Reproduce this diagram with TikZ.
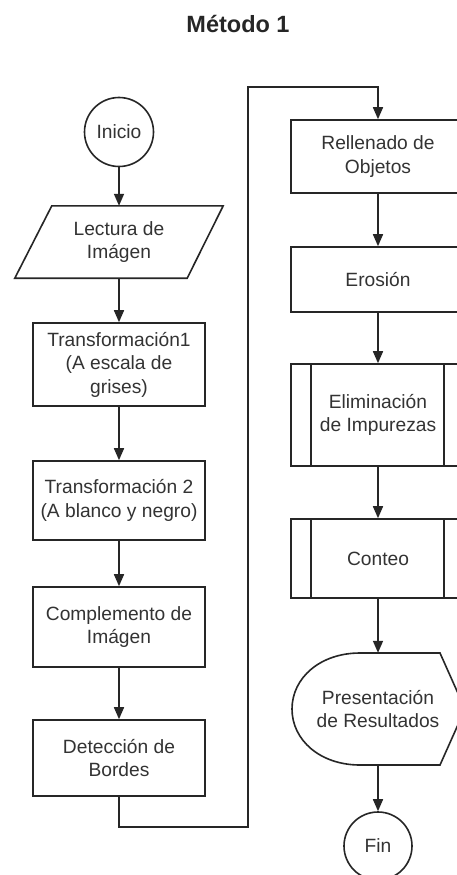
\documentclass[tikz,border=0pt]{standalone}
\usepackage{fontspec}
\setmainfont{Liberation Sans}
\usetikzlibrary{arrows.meta,calc}
\begin{document}
\begin{tikzpicture}[x=1pt,y=-1pt,
  every node/.style={font=\fontsize{19.2}{23.5}\selectfont, text=black!80, align=center, inner sep=0pt},
  ln/.style={draw=black!85, line width=1.6pt},
  arr/.style={ln, -{Triangle[length=12pt,width=10pt]}},
  procbox/.style={ln, rectangle, minimum height=#1},
  lbox/.style={procbox=#1, minimum width=172pt},
  rbox/.style={procbox=#1, minimum width=174pt},
  term/.style={ln, circle, minimum size=69pt},
  ghost/.style={rectangle, minimum width=#1}
]
\useasboundingbox (0,0) rectangle (457,875);
\clip (0,0) rectangle (457,875);
\fill[white] (0,0) rectangle (457,875);

\node[font=\fontsize{23.5}{28}\selectfont\bfseries, text=black!85] (title) at (238,24) {Método 1};

% left column
\node[term] (inicio) at (119,132) {Inicio};
\node[ghost=208pt, minimum height=72pt] (lect) at (119,242) {Lectura de\\Imágen};
\draw[ln] ($(lect.north west)+(37,0)$) -- (lect.north east) -- ($(lect.south east)+(-36,0)$) -- (lect.south west) -- cycle;
\node[lbox=83pt] (t1) at (119,364.5) {Transformación1\\(A escala de\\grises)};
\node[lbox=79pt] (t2) at (119,500.5) {Transformación 2\\(A blanco y negro)};
\node[lbox=80pt] (comp) at (119,627) {Complemento de\\Imágen};
\node[lbox=76pt] (det) at (119,758) {Detección de\\Bordes};

% right column
\node[rbox=73pt] (rell) at (378,156.5) {Rellenado de\\Objetos};
\node[rbox=65pt] (eros) at (378,279.5) {Erosión};
\node[rbox=102pt] (elim) at (378,415) {Eliminación\\de Impurezas};
\draw[ln] ($(elim.north west)+(21,0)$) -- ($(elim.south west)+(21,0)$);
\draw[ln] ($(elim.north east)+(-22,0)$) -- ($(elim.south east)+(-22,0)$);
\node[rbox=79pt] (cont) at (378,558.5) {Conteo};
\draw[ln] ($(cont.north west)+(21,0)$) -- ($(cont.south west)+(21,0)$);
\draw[ln] ($(cont.north east)+(-22,0)$) -- ($(cont.south east)+(-22,0)$);
\node[ghost=174pt, minimum height=112pt] (pres) at (378,709) {Presentación\\de Resultados};
\draw[ln] (360,653) -- (440,653) -- (465,709) -- (440,765) -- (360,765)
  .. controls (320,765) and (292,740) .. (292,709)
  .. controls (292,678) and (320,653) .. (360,653) -- cycle;
\node[term, minimum size=68pt] (fin) at (378,846) {Fin};

% connectors
\coordinate (loopB) at (248,827);
\coordinate (loopT) at (248,87);
\draw[arr] (inicio) -- (lect);
\draw[arr] (lect) -- (t1);
\draw[arr] (t1) -- (t2);
\draw[arr] (t2) -- (comp);
\draw[arr] (comp) -- (det);
\draw[arr] (det.south) |- (loopB) -- (loopT) -| (rell.north);
\draw[arr] (rell) -- (eros);
\draw[arr] (eros) -- (elim);
\draw[arr] (elim) -- (cont);
\draw[arr] (cont) -- (pres);
\draw[arr] (pres) -- (fin);
\end{tikzpicture}
\end{document}
